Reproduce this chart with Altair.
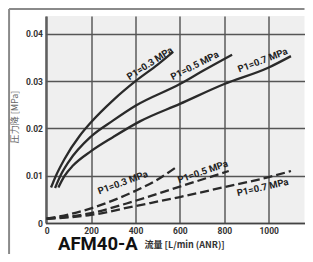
import altair as alt
import pandas as pd

# Solid curves (P1 = 0.3 / 0.5 / 0.7 MPa)
sol03_x = [20, 40, 80, 150, 200, 300, 400, 500, 570]
sol03_y = [0.0075, 0.0098, 0.0135, 0.0185, 0.0213, 0.0260, 0.0300, 0.0335, 0.0362]
sol05_x = [38, 60, 100, 200, 300, 400, 600, 700, 835]
sol05_y = [0.0074, 0.0098, 0.0130, 0.0183, 0.0217, 0.0248, 0.0294, 0.0321, 0.0356]
sol07_x = [53, 80, 120, 200, 300, 420, 600, 800, 1000, 1100]
sol07_y = [0.0075, 0.0099, 0.0122, 0.0152, 0.0182, 0.0215, 0.0252, 0.0294, 0.0329, 0.0353]

# Dashed curves
das03_x = [0, 100, 200, 300, 400, 500, 580]
das03_y = [0.0009, 0.0018, 0.0031, 0.0048, 0.0068, 0.0092, 0.0117]
das05_x = [0, 200, 400, 600, 820]
das05_y = [0.0009, 0.0021, 0.0047, 0.0077, 0.0110]
das07_x = [0, 200, 400, 600, 800, 1000, 1100]
das07_y = [0.0009, 0.0017, 0.0036, 0.0055, 0.0076, 0.0097, 0.0110]

# Curve labels
lab_text = ["P1=0.3 MPa", "P1=0.5 MPa", "P1=0.7 MPa", "P1=0.3 MPa", "P1=0.5 MPa", "P1=0.7 MPa"]
lab_x = [465, 667, 973, 343, 703, 973]
lab_y = [0.03375, 0.0333, 0.0344, 0.00855, 0.01083, 0.0075]
lab_ang = [327, 333, 339, 340, 341, 347]

x_ticks = [0, 200, 400, 600, 800, 1000]
y_ticks = [0, 0.01, 0.02, 0.03, 0.04]

title_main = "AFM40-A"
title_sub = "流量 [L/min (ANR)]"
y_title = "圧力降 [MPa]"

# outer frame (top and left border lines), in axis units
frame_x = [-169, -169]
frame_x2 = [1161, -169]
frame_y = [0.04527, 0.04527]
frame_y2 = [0.04527, -0.0066]

FONT = "Roboto, 'Noto Sans CJK JP', sans-serif"
CJK = "'Noto Sans CJK JP', Roboto, sans-serif"

rows = []
for name, xs, ys, kind in [
    ("s03", sol03_x, sol03_y, "solid"), ("s05", sol05_x, sol05_y, "solid"),
    ("s07", sol07_x, sol07_y, "solid"), ("d03", das03_x, das03_y, "dash"),
    ("d05", das05_x, das05_y, "dash"), ("d07", das07_x, das07_y, "dash")]:
    for i, (a, b) in enumerate(zip(xs, ys)):
        rows.append({"series": name, "kind": kind, "x": a, "y": b, "o": i})
df = pd.DataFrame(rows)
labels = pd.DataFrame({"text": lab_text, "x": lab_x, "y": lab_y, "ang": lab_ang})
frame = pd.DataFrame({"x": frame_x, "x2": frame_x2, "y": frame_y, "y2": frame_y2})

xs = alt.Scale(domain=[-5, 1161], nice=False, zero=False)
ys = alt.Scale(domain=[0, 0.04379], nice=False, zero=False)

x_enc = alt.X("x:Q", scale=xs, axis=alt.Axis(
    values=x_ticks, title=None, ticks=False, labelPadding=3, labelFont=FONT, format="d",
    labelFontSize=8.5, labelFontWeight="bold", labelColor="#333", grid=True,
    gridColor="#444", gridWidth=1.3, domainColor="#444", domainWidth=1.5,
    labelFlush=False))
y_enc = alt.Y("y:Q", scale=ys, axis=alt.Axis(
    values=y_ticks, title=None, ticks=False, labelPadding=3, labelFont=FONT,
    labelFontSize=8.5, labelFontWeight="bold", labelColor="#333", grid=True,
    gridColor="#555", gridWidth=1.3, domainColor="#555", domainWidth=1.5,
    labelExpr="datum.value == 0 ? '0' : format(datum.value, '.2f')", labelFlush=False))

solid = alt.Chart(df).transform_filter(alt.datum.kind == "solid").mark_line(
    color="#2a2a2a", strokeWidth=2.3, interpolate="monotone").encode(
    x=x_enc, y=y_enc, detail="series:N", order="o:Q")
dashed = alt.Chart(df).transform_filter(alt.datum.kind == "dash").mark_line(
    color="#2a2a2a", strokeWidth=2.3, strokeDash=[9, 4], interpolate="monotone").encode(
    x="x:Q", y="y:Q", detail="series:N", order="o:Q")

lab = alt.Chart(labels).mark_text(font=FONT, fontSize=9.5, fontWeight="bold",
                                  color="#222", align="center", baseline="middle").encode(
    x="x:Q", y="y:Q", text="text:N", angle=alt.Angle("ang:Q", scale=None))

frame_rule = alt.Chart(frame).mark_rule(color="#8a8a8a", strokeWidth=2, clip=False).encode(
    x="x:Q", x2="x2:Q", y="y:Q", y2="y2:Q")

one = pd.DataFrame({"a": [0]})
t_main = alt.Chart(one).mark_text(text=title_main, font=FONT, fontSize=18.5, fontWeight="bold",
                                  color="#111", align="left", baseline="alphabetic").encode(
    x=alt.value(12.5), y=alt.value(234))
t_sub = alt.Chart(one).mark_text(text=title_sub, font=CJK, fontSize=9, fontWeight="bold",
                                 color="#333", align="left", baseline="alphabetic").encode(
    x=alt.value(99), y=alt.value(232))
t_y = alt.Chart(one).mark_text(text=y_title, font=CJK, fontSize=9, color="#666",
                               align="center", baseline="middle", angle=270).encode(
    x=alt.value(-31), y=alt.value(101))

chart = alt.layer(frame_rule, solid, dashed, lab, t_main, t_sub, t_y).properties(
    width=259, height=207,
    autosize=alt.AutoSizeParams(type="none"),
    padding={"left": 37.5, "top": 8, "right": 0, "bottom": 31},
    background="white",
).configure_view(fill="#efefef", stroke=None)

chart.save("out.html", embed_options={"renderer": "svg", "actions": False})
